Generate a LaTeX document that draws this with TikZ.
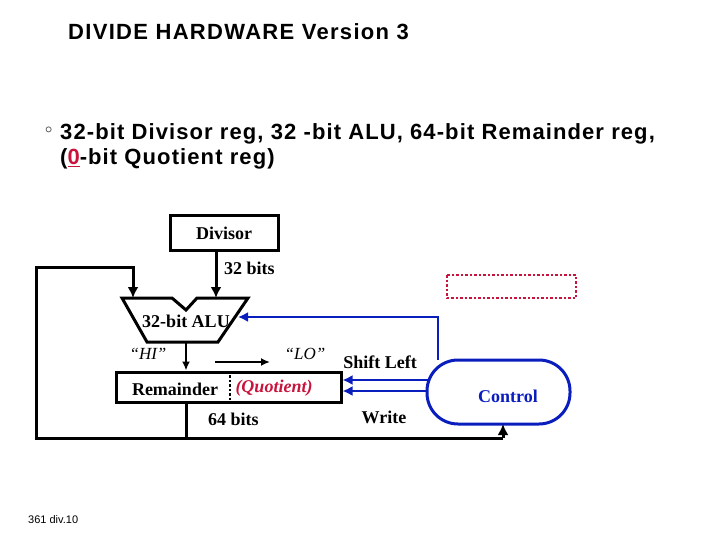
\documentclass[tikz,border=0pt]{standalone}
\usepackage{fontspec}
\setmainfont{Liberation Serif}
\newfontfamily\arial{Liberation Sans}
\newfontfamily\arialsp[LetterSpace=5]{Liberation Sans}
\newfontfamily\arialti[LetterSpace=6]{Liberation Sans}
\usetikzlibrary{arrows.meta}
\definecolor{cblue}{RGB}{10,30,190}
\definecolor{cred}{RGB}{200,20,60}
\tikzset{
  thick3/.style={line width=3pt},
  box/.style={draw, line width=3pt, inner sep=0pt},
  lbl/.style={font=\bfseries\fontsize{18}{20}\selectfont, inner sep=0pt},
  arr/.style={-{Latex[length=11pt,width=11pt]}},
  sarr/.style={-{Latex[length=9pt,width=8pt]}},
  barr/.style={draw=cblue, line width=2.5pt, -{Latex[length=10pt,width=10pt]}},
}
\begin{document}
\begin{tikzpicture}[x=1pt,y=-1pt]
\useasboundingbox (0,0) rectangle (720,540);
% title & text
\node[anchor=west, inner sep=0pt, font=\arialti\bfseries\fontsize{22}{26}\selectfont] (title) at (68,32) {DIVIDE HARDWARE Version 3};
\node[anchor=west, inner sep=0pt, font=\arial\fontsize{14}{16}\selectfont] (bul) at (45,130) {$\circ$};
\node[anchor=west, inner sep=0pt, font=\arialsp\bfseries\fontsize{22}{26}\selectfont] (l1) at (60,134) {32-bit Divisor reg, 32 -bit ALU, 64-bit Remainder reg,};
\node[anchor=west, inner sep=0pt, font=\arialsp\bfseries\fontsize{22}{26}\selectfont] (l2) at (60,159) {(\textcolor{cred}{\underline{0}}-bit Quotient reg)};
\node[anchor=west, inner sep=0pt, font=\arial\fontsize{11}{13}\selectfont] (foot) at (28,520) {361 div.10};
% divisor
\node[box, minimum width=108pt, minimum height=34pt, lbl] (div) at (224,233) {Divisor};
\node[lbl, anchor=west] (b32) at (224,268) {32 bits};
% ALU
\draw[thick3, line join=miter] (122,298) -- (172,298) -- (186,310) -- (197,298) -- (248,298) -- (218,342) -- (147,342) -- cycle;
\coordinate (aluL) at (133,298);
\coordinate (aluR) at (216,298);
\coordinate (aluB) at (186,342);
\coordinate (aluS) at (238,317);
\node[lbl] (alut) at (186,321) {32-bit ALU};
\draw[line width=3pt, arr] (div.south -| aluR) -- (aluR);
% remainder
\node[box, minimum width=225pt, minimum height=30pt] (rem) at (228.5,387) {};
\node[lbl] (remt) at (175,389) {Remainder};
\node[lbl, text=cred, font=\bfseries\itshape\fontsize{18}{20}\selectfont] (quo) at (274,388) {(Quotient)};
\draw[line width=2.5pt, dotted] (230,375) -- (230,400);
\draw[line width=2pt, sarr] (aluB) -- (aluB |- rem.north);
\node[inner sep=0pt, font=\itshape\fontsize{17}{19}\selectfont] (hi) at (148,354) {``HI''};
\node[inner sep=0pt, font=\itshape\fontsize{17}{19}\selectfont] (lo) at (305,354) {``LO''};
\coordinate (sa) at (215,362);
\coordinate (sb) at (270,362);
\draw[line width=2pt, sarr] (sa) -- (sb);
\node[lbl, anchor=west] (b64) at (208,419) {64 bits};
\node[lbl] (shl) at (380,362) {Shift Left};
\node[lbl] (wr) at (384,417) {Write};
% control
\draw[draw=cblue, line width=3pt, rounded corners=31pt] (427,360) rectangle (570,424);
\coordinate (ctrlB) at (503,424);
\node[lbl, text=cblue] (ctrl) at (508,396) {Control};
% bus & loop
\coordinate (bl) at (36,438);
\coordinate (br) at (503,438);
\coordinate (tl) at (36,267);
\draw[thick3] (rem.south -| aluB) -- (aluB |- bl);
\draw[thick3, arr, line join=miter] (br) -- (ctrlB);
\draw[thick3, arr, line join=miter] (br) -- (bl) -- (tl) -- (tl -| aluL) -- (aluL);
% blue control lines
\draw[barr] (438,360) -- (438,317) -- (aluS);
\draw[barr] (430,380) -- (rem.east |- 0,380);
\draw[barr] (428,391) -- (rem.east |- 0,391);
% red dotted box
\draw[draw=cred, line width=2.5pt, dotted] (447,275) rectangle (576,298);
\end{tikzpicture}
\end{document}
